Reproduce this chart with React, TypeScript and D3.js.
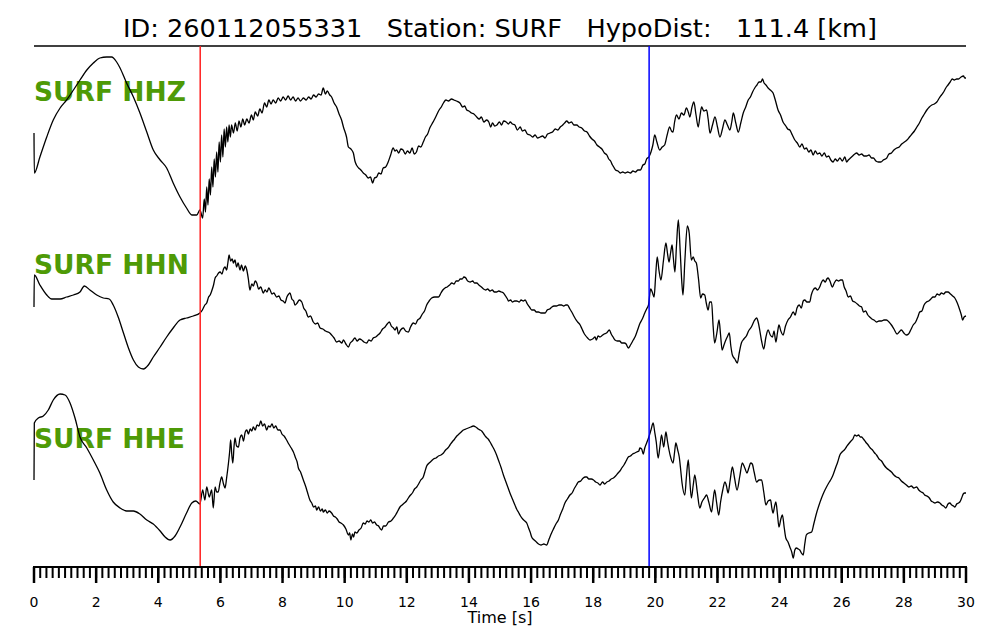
import React from "react";
import * as d3 from "d3";

// ---- data (time [s], normalized amplitude) ----
const stationId = "260112055331";
const stationName = "SURF";
const hypoDist = "111.4";
const channels = ["SURF HHZ", "SURF HHN", "SURF HHE"];
const pPick = 5.35;
const sPick = 19.8;
const majorTicks = [0, 2, 4, 6, 8, 10, 12, 14, 16, 18, 20, 22, 24, 26, 28, 30];
const minorStep = 0.2;
const timeDomain = [0, 30];

const hhz: [number, number][] = [
  [0,4],[0.01,-36],[0.19,-20],[0.41,0],[0.62,17],[0.84,29],[1.05,37],[1.27,47],[1.48,57],[1.70,67],[1.91,74],[2.12,79],[2.34,80],[2.50,80],[2.66,75],[2.77,69],[2.98,54],[3.20,40],[3.41,24],[3.63,5],[3.84,-13],[4.06,-23],[4.27,-31],[4.48,-46],[4.70,-60],[4.91,-71],[5.08,-78],[5.24,-78],[5.34,-73],[5.43,-81],
  [5.48,-62],[5.52,-75],[5.56,-50],[5.60,-68],[5.64,-42],[5.68,-58],[5.72,-30],[5.76,-50],[5.80,-22],[5.84,-40],[5.88,-15],[5.92,-35],[5.96,-5],[6.00,-25],[6.04,2],[6.08,-20],[6.12,8],[6.16,-10],[6.20,10],[6.24,-5],[6.28,12],[6.32,0],[6.36,12],[6.42,4],[6.48,14],[6.54,6],[6.60,16],[6.66,10],[6.72,18],[6.78,12],[6.85,18],[6.92,14],[7.0,22],[7.06,17],[7.12,25],[7.2,21],[7.27,28],[7.34,24],[7.42,34],[7.49,30],[7.56,37],[7.63,33],[7.70,37],[7.78,34],[7.86,39],[7.94,36],[8.02,40],[8.1,37],[8.18,41],[8.26,37],[8.34,40],[8.42,36],[8.5,39],[8.58,36],[8.67,39],[8.76,37],[8.84,40],[8.92,38],[9.0,42],[9.08,40],[9.16,43],[9.24,42],[9.31,49],[9.38,43],[9.44,46],[9.52,42],[9.58,40],[9.66,34],[9.74,30],[9.82,23],[9.90,17],[9.96,10],[10.06,0],[10.12,-10],[10.2,-12],[10.28,-16],[10.33,-24],[10.38,-28],[10.45,-31],[10.52,-33],[10.60,-36],[10.68,-38],[10.76,-41],[10.83,-40],[10.90,-46],[10.96,-41],[11.03,-40],[11.1,-36],[11.17,-37],[11.24,-31],[11.32,-30],[11.40,-25],[11.48,-18],[11.56,-11],[11.62,-14],[11.67,-13],[11.74,-16],[11.81,-12],[11.88,-13],[11.95,-17],[12.02,-14],[12.10,-16],[12.17,-11],[12.24,-17],[12.31,-15],[12.38,-9],[12.45,-10],[12.53,-5],[12.6,0],[12.67,3],[12.74,9],[12.81,13],[12.88,17],[12.96,22],[13.04,27],[13.11,30],[13.18,34],[13.26,37],[13.34,36],[13.44,38],[13.52,37],[13.6,36],[13.71,34],[13.8,30],[13.86,31],[13.93,27],[14.0,26],[14.08,24],[14.16,23],[14.25,20],[14.33,18],[14.40,20],[14.48,15],[14.57,17],[14.64,15],[14.70,10],[14.76,14],[14.83,11],[14.90,12],[14.98,15],[15.05,12],[15.12,16],[15.2,15],[15.27,13],[15.33,15],[15.4,13],[15.48,12],[15.56,7],[15.65,10],[15.72,6],[15.8,7],[15.88,3],[15.97,2],[16.05,0],[16.13,2],[16.21,-1],[16.29,0],[16.37,1],[16.45,-1],[16.53,3],[16.61,4],[16.69,5],[16.78,8],[16.86,7],[16.94,10],[17.02,12],[17.08,14],[17.15,16],[17.22,14],[17.3,15],[17.38,12],[17.47,12],[17.55,10],[17.63,9],[17.72,6],[17.80,5],[17.88,1],[17.96,-2],[18.04,-4],[18.12,-8],[18.2,-10],[18.28,-12],[18.36,-16],[18.44,-18],[18.5,-22],[18.56,-24],[18.62,-28],[18.66,-30],[18.72,-33],[18.8,-34],[18.87,-36],[18.95,-35],[19.03,-36],[19.11,-35],[19.2,-36],[19.28,-34],[19.36,-35],[19.44,-33],[19.52,-33],[19.6,-28],[19.66,-27],[19.72,-22],[19.79,-20],[19.86,-15],[19.92,-8],[19.98,2],[20.05,-5],[20.14,-13],[20.22,-10],[20.30,-8],[20.38,2],[20.46,10],[20.52,6],[20.57,5],[20.62,15],[20.68,22],[20.76,18],[20.84,24],[20.92,22],[21.0,29],[21.06,25],[21.11,20],[21.18,30],[21.24,35],[21.31,22],[21.38,10],[21.44,22],[21.49,30],[21.56,26],[21.65,27],[21.70,18],[21.76,4],[21.84,12],[21.92,20],[22.0,10],[22.08,0],[22.16,8],[22.24,17],[22.32,12],[22.40,7],[22.46,15],[22.51,24],[22.59,14],[22.67,5],[22.75,14],[22.83,24],[22.91,30],[22.99,37],[23.06,40],[23.13,45],[23.2,49],[23.27,52],[23.34,55],[23.40,55],[23.45,58],[23.5,54],[23.56,52],[23.63,49],[23.7,47],[23.79,44],[23.87,36],[23.95,27],[24.03,22],[24.11,15],[24.2,11],[24.26,8],[24.33,7],[24.41,2],[24.49,-3],[24.57,-6],[24.65,-10],[24.72,-7],[24.8,-12],[24.86,-11],[24.94,-15],[25.01,-13],[25.08,-18],[25.15,-14],[25.22,-17],[25.29,-16],[25.36,-19],[25.44,-16],[25.51,-20],[25.58,-19],[25.65,-23],[25.72,-25],[25.79,-22],[25.86,-24],[25.94,-21],[26.02,-24],[26.1,-20],[26.16,-25],[26.21,-23],[26.28,-21],[26.35,-19],[26.42,-17],[26.48,-16],[26.56,-18],[26.64,-17],[26.72,-19],[26.80,-19],[26.88,-18],[26.96,-21],[27.02,-21],[27.1,-24],[27.18,-25],[27.26,-25],[27.34,-23],[27.45,-21],[27.52,-17],[27.6,-16],[27.68,-13],[27.77,-11],[27.85,-10],[27.93,-7],[28.02,-5],[28.1,-3],[28.18,0],[28.26,3],[28.34,6],[28.42,10],[28.5,14],[28.58,19],[28.66,23],[28.74,27],[28.82,30],[28.9,32],[28.98,33],[29.06,35],[29.14,39],[29.21,42],[29.28,45],[29.35,49],[29.42,52],[29.49,55],[29.56,58],[29.62,57],[29.7,58],[29.76,58],[29.84,60],[29.92,61],[29.96,59],[30.0,59]
];

const hhn: [number, number][] = [
  [0,-16],[0.01,16],[0.19,6],[0.41,-4],[0.57,-8],[0.84,-8],[1.05,-6],[1.27,-4],[1.48,-1],[1.62,5],[1.80,1],[2.02,-4],[2.23,-7],[2.42,-8],[2.55,-14],[2.71,-26],[2.88,-42],[3.04,-57],[3.20,-69],[3.36,-76],[3.52,-78],[3.68,-74],[3.84,-66],[4.06,-56],[4.27,-46],[4.48,-37],[4.70,-29],[4.91,-27],[5.13,-25],
  [5.34,-22],[5.42,-19],[5.50,-14],[5.56,-12],[5.62,-6],[5.67,-4],[5.72,0],[5.78,6],[5.83,13],[5.88,15],[5.94,18],[5.99,19],[6.05,17],[6.1,22],[6.15,24],[6.2,21],[6.24,28],[6.28,36],[6.33,30],[6.38,32],[6.42,28],[6.47,31],[6.52,24],[6.57,28],[6.63,21],[6.68,26],[6.74,20],[6.8,25],[6.85,21],[6.9,12],[6.95,1],[7.01,7],[7.06,5],[7.12,10],[7.17,8],[7.23,2],[7.3,4],[7.38,-2],[7.44,1],[7.5,-1],[7.56,3],[7.6,1],[7.66,-3],[7.72,-2],[7.81,-6],[7.88,-5],[7.95,-9],[8.02,-10],[8.08,-12],[8.14,-6],[8.2,-3],[8.24,-2],[8.3,-8],[8.36,-10],[8.40,-14],[8.47,-12],[8.54,-9],[8.62,-11],[8.68,-17],[8.75,-20],[8.83,-26],[8.9,-25],[8.99,-31],[9.06,-33],[9.13,-32],[9.21,-37],[9.3,-38],[9.38,-40],[9.46,-41],[9.52,-42],[9.58,-44],[9.66,-47],[9.74,-51],[9.82,-50],[9.91,-52],[9.96,-49],[10.04,-53],[10.12,-56],[10.18,-52],[10.25,-50],[10.33,-47],[10.40,-50],[10.48,-48],[10.55,-49],[10.62,-51],[10.71,-52],[10.78,-49],[10.85,-50],[10.92,-47],[11.0,-46],[11.07,-44],[11.14,-42],[11.22,-38],[11.30,-36],[11.37,-33],[11.44,-31],[11.5,-35],[11.57,-37],[11.62,-39],[11.68,-36],[11.73,-43],[11.8,-39],[11.89,-37],[11.96,-40],[12.05,-41],[12.12,-36],[12.21,-32],[12.28,-33],[12.35,-29],[12.43,-27],[12.5,-23],[12.57,-20],[12.64,-14],[12.72,-10],[12.80,-7],[12.9,-6],[13.02,-6],[13.1,-2],[13.16,1],[13.23,3],[13.3,4],[13.38,6],[13.45,8],[13.52,7],[13.59,10],[13.66,10],[13.72,12],[13.78,12],[13.84,14],[13.9,13],[13.96,10],[14.04,9],[14.12,10],[14.18,8],[14.25,8],[14.32,6],[14.40,4],[14.47,2],[14.54,1],[14.6,2],[14.68,0],[14.75,1],[14.82,-1],[14.89,-1],[14.96,0],[15.04,-1],[15.11,-2],[15.18,-5],[15.24,-8],[15.27,-10],[15.34,-9],[15.4,-11],[15.47,-10],[15.54,-10],[15.62,-11],[15.68,-9],[15.75,-10],[15.81,-9],[15.88,-13],[15.95,-16],[16.02,-19],[16.1,-19],[16.17,-21],[16.24,-21],[16.32,-22],[16.38,-22],[16.45,-22],[16.52,-19],[16.6,-18],[16.67,-16],[16.74,-15],[16.82,-15],[16.9,-14],[16.98,-14],[17.05,-15],[17.12,-14],[17.17,-14],[17.25,-18],[17.31,-21],[17.36,-24],[17.43,-28],[17.5,-31],[17.58,-34],[17.64,-38],[17.7,-42],[17.74,-44],[17.82,-47],[17.9,-49],[17.98,-48],[18.06,-46],[18.1,-49],[18.16,-45],[18.22,-46],[18.27,-45],[18.35,-43],[18.43,-42],[18.52,-39],[18.58,-43],[18.64,-46],[18.70,-49],[18.78,-50],[18.85,-50],[18.92,-52],[19.0,-52],[19.06,-53],[19.13,-57],[19.2,-54],[19.29,-49],[19.36,-45],[19.44,-38],[19.51,-32],[19.58,-28],[19.66,-22],[19.72,-18],[19.78,-14],[19.85,2],[19.9,-1],[19.96,-6],[20.01,15],[20.06,34],[20.12,20],[20.18,11],[20.26,30],[20.34,48],[20.39,38],[20.44,29],[20.49,38],[20.54,46],[20.58,33],[20.63,19],[20.68,45],[20.74,71],[20.8,40],[20.85,10],[20.89,-4],[20.95,30],[21.03,65],[21.09,58],[21.16,31],[21.22,34],[21.27,30],[21.32,28],[21.39,12],[21.46,-7],[21.52,-3],[21.59,-4],[21.64,-12],[21.70,-19],[21.75,-11],[21.81,-11],[21.86,-35],[21.91,-52],[21.98,-42],[22.05,-29],[22.1,-44],[22.15,-59],[22.21,-54],[22.27,-49],[22.33,-45],[22.38,-42],[22.43,-55],[22.48,-64],[22.56,-68],[22.64,-72],[22.7,-62],[22.77,-52],[22.85,-48],[22.93,-45],[23.0,-40],[23.09,-36],[23.18,-30],[23.26,-27],[23.31,-31],[23.36,-39],[23.42,-50],[23.49,-58],[23.56,-46],[23.63,-39],[23.7,-44],[23.77,-46],[23.82,-40],[23.88,-51],[23.93,-42],[23.98,-34],[24.04,-40],[24.11,-44],[24.19,-35],[24.27,-29],[24.35,-26],[24.44,-21],[24.5,-24],[24.56,-17],[24.63,-14],[24.7,-17],[24.76,-10],[24.81,-9],[24.88,-11],[24.97,-11],[25.02,-4],[25.08,1],[25.15,3],[25.22,1],[25.29,4],[25.34,8],[25.40,11],[25.47,9],[25.52,12],[25.56,13],[25.62,10],[25.7,4],[25.76,8],[25.83,11],[25.9,10],[25.96,11],[26.02,11],[26.08,4],[26.14,0],[26.21,-6],[26.28,-5],[26.35,-10],[26.42,-11],[26.5,-13],[26.57,-15],[26.64,-16],[26.7,-21],[26.77,-20],[26.84,-24],[26.9,-26],[26.97,-28],[27.04,-29],[27.12,-31],[27.2,-30],[27.28,-30],[27.36,-29],[27.44,-29],[27.52,-31],[27.6,-34],[27.68,-38],[27.78,-43],[27.85,-41],[27.92,-39],[28.0,-42],[28.08,-44],[28.15,-43],[28.22,-39],[28.3,-34],[28.38,-31],[28.45,-26],[28.51,-21],[28.58,-20],[28.65,-14],[28.73,-11],[28.8,-10],[28.87,-8],[28.94,-6],[29.0,-6],[29.07,-3],[29.14,-4],[29.21,-2],[29.28,-3],[29.35,-1],[29.42,-1],[29.5,-3],[29.57,-5],[29.64,-7],[29.72,-12],[29.8,-19],[29.85,-24],[29.89,-29],[29.94,-26],[30.0,-25]
];

const hhe: [number, number][] = [
  [0,-4],[0.01,53],[0.14,58],[0.30,60],[0.46,66],[0.62,76],[0.84,82],[1.0,81],[1.16,73],[1.32,58],[1.48,39],[1.70,28],[1.91,16],[2.12,3],[2.34,-14],[2.55,-26],[2.77,-32],[2.98,-35],[3.20,-35],[3.41,-38],[3.63,-44],[3.84,-48],[4.06,-55],[4.22,-61],[4.38,-64],[4.54,-60],[4.70,-51],[4.91,-37],[5.08,-27],[5.21,-25],[5.34,-28],
  [5.43,-14],[5.50,-24],[5.56,-11],[5.64,-21],[5.72,-14],[5.77,-32],[5.83,-11],[5.88,-16],[5.93,-16],[5.98,-8],[6.04,-1],[6.10,-8],[6.15,-12],[6.2,-2],[6.26,13],[6.3,25],[6.33,36],[6.37,20],[6.40,13],[6.44,30],[6.47,38],[6.52,30],[6.58,29],[6.63,38],[6.69,41],[6.74,35],[6.8,44],[6.85,46],[6.9,42],[6.96,47],[7.01,45],[7.06,49],[7.12,46],[7.18,51],[7.24,50],[7.30,55],[7.36,50],[7.42,52],[7.49,46],[7.55,50],[7.6,49],[7.66,52],[7.72,48],[7.78,50],[7.85,46],[7.92,46],[7.98,42],[8.05,40],[8.13,36],[8.2,32],[8.28,28],[8.35,24],[8.42,18],[8.47,14],[8.51,8],[8.58,4],[8.67,-4],[8.74,-10],[8.8,-16],[8.88,-24],[8.94,-27],[9.0,-31],[9.06,-30],[9.1,-34],[9.16,-31],[9.22,-35],[9.28,-33],[9.31,-36],[9.38,-34],[9.44,-37],[9.5,-35],[9.58,-37],[9.64,-40],[9.7,-41],[9.76,-43],[9.82,-46],[9.88,-47],[9.96,-49],[10.04,-53],[10.12,-59],[10.16,-57],[10.20,-64],[10.25,-58],[10.29,-61],[10.33,-56],[10.39,-57],[10.46,-54],[10.53,-52],[10.6,-47],[10.66,-48],[10.72,-45],[10.78,-46],[10.84,-44],[10.9,-47],[10.96,-46],[11.03,-49],[11.09,-50],[11.15,-53],[11.19,-54],[11.25,-50],[11.32,-50],[11.41,-46],[11.49,-45],[11.57,-42],[11.64,-39],[11.71,-35],[11.78,-31],[11.85,-29],[11.92,-27],[11.99,-25],[12.05,-22],[12.12,-19],[12.18,-17],[12.25,-13],[12.32,-11],[12.38,-8],[12.45,-4],[12.53,-1],[12.58,4],[12.64,10],[12.72,13],[12.79,15],[12.86,17],[12.94,18],[13.02,20],[13.1,21],[13.18,23],[13.25,26],[13.32,28],[13.39,31],[13.46,34],[13.54,37],[13.61,40],[13.68,42],[13.75,44],[13.82,46],[13.9,47],[13.98,48],[14.06,49],[14.14,50],[14.22,49],[14.3,47],[14.36,46],[14.41,45],[14.48,42],[14.55,39],[14.62,37],[14.68,34],[14.75,30],[14.82,26],[14.89,21],[14.96,15],[15.04,8],[15.11,1],[15.18,-5],[15.25,-11],[15.32,-17],[15.4,-23],[15.48,-29],[15.55,-34],[15.59,-36],[15.66,-40],[15.73,-43],[15.8,-45],[15.86,-47],[15.92,-52],[15.97,-56],[16.02,-61],[16.1,-64],[16.17,-66],[16.24,-68],[16.32,-69],[16.41,-68],[16.5,-69],[16.58,-63],[16.66,-57],[16.72,-53],[16.8,-48],[16.88,-44],[16.95,-38],[17.02,-33],[17.09,-27],[17.17,-23],[17.25,-19],[17.32,-17],[17.4,-12],[17.46,-9],[17.52,-6],[17.6,-5],[17.68,-2],[17.74,-1],[17.79,-1],[17.86,-3],[17.94,-3],[18.01,-4],[18.08,-6],[18.15,-7],[18.22,-9],[18.3,-6],[18.37,-8],[18.44,-6],[18.51,-5],[18.58,-3],[18.65,-2],[18.72,0],[18.8,3],[18.86,5],[18.92,8],[18.99,11],[19.06,15],[19.13,19],[19.2,20],[19.27,22],[19.34,23],[19.4,24],[19.47,25],[19.5,28],[19.56,27],[19.61,22],[19.66,28],[19.72,33],[19.78,38],[19.86,46],[19.93,53],[19.98,44],[20.03,34],[20.09,18],[20.15,30],[20.2,41],[20.27,29],[20.34,44],[20.39,35],[20.44,26],[20.5,18],[20.57,13],[20.62,24],[20.66,33],[20.72,26],[20.77,19],[20.82,5],[20.86,-7],[20.95,-19],[21.0,-1],[21.06,16],[21.1,0],[21.16,-22],[21.22,-9],[21.27,1],[21.35,-16],[21.43,-32],[21.5,-26],[21.58,-22],[21.65,-19],[21.72,-26],[21.81,-36],[21.86,-24],[21.91,-14],[21.97,-26],[22.04,-39],[22.1,-26],[22.17,-14],[22.24,-6],[22.29,-10],[22.34,-17],[22.41,-4],[22.48,9],[22.55,-2],[22.63,-14],[22.72,0],[22.8,13],[22.88,8],[22.95,3],[23.01,8],[23.07,13],[23.12,12],[23.18,4],[23.26,-6],[23.34,-4],[23.42,-4],[23.49,-16],[23.56,-29],[23.63,-25],[23.71,-24],[23.75,-32],[23.79,-37],[23.84,-30],[23.88,-26],[23.93,-38],[23.98,-51],[24.04,-43],[24.09,-39],[24.15,-52],[24.2,-62],[24.27,-66],[24.33,-71],[24.39,-76],[24.44,-82],[24.49,-74],[24.54,-72],[24.6,-73],[24.65,-74],[24.7,-77],[24.76,-79],[24.81,-68],[24.86,-59],[24.94,-57],[25.03,-56],[25.1,-48],[25.19,-37],[25.27,-29],[25.35,-22],[25.43,-16],[25.51,-11],[25.6,-6],[25.66,-3],[25.72,1],[25.8,8],[25.87,14],[25.94,21],[26.01,24],[26.08,26],[26.15,29],[26.22,32],[26.3,35],[26.36,37],[26.42,41],[26.48,40],[26.54,41],[26.6,39],[26.64,39],[26.7,37],[26.77,34],[26.85,31],[26.92,28],[26.99,26],[27.06,23],[27.12,21],[27.2,17],[27.28,15],[27.36,11],[27.44,8],[27.52,6],[27.6,4],[27.68,1],[27.76,-1],[27.84,-2],[27.92,-5],[28.0,-7],[28.08,-9],[28.16,-11],[28.24,-10],[28.32,-12],[28.41,-11],[28.48,-14],[28.56,-16],[28.62,-17],[28.67,-19],[28.74,-20],[28.82,-22],[28.88,-25],[28.94,-26],[29.0,-27],[29.08,-26],[29.16,-27],[29.22,-29],[29.28,-30],[29.35,-32],[29.42,-28],[29.48,-27],[29.54,-29],[29.6,-30],[29.64,-31],[29.7,-28],[29.76,-27],[29.8,-26],[29.86,-22],[29.91,-18],[29.96,-17],[30.0,-17]
];

const traces = [hhz, hhn, hhe];

// ---- layout ----
const W = 1000;
const H = 640;
const left = 34;
const right = 966;
const ruleY = 46;
const axisY = 567;
const traceCenters = [137, 291, 476];
const traceHalf = 100;
const labelBaselines = [101, 274, 448];
const labelColor = "#4e9a06";
const font = "'DejaVu Sans', sans-serif";

export default function App() {
  const x = d3.scaleLinear().domain(timeDomain).range([left, right]);
  const yScales = traceCenters.map((c) =>
    d3.scaleLinear().domain([-traceHalf, traceHalf]).range([c + traceHalf, c - traceHalf])
  );
  const minorTicks = d3.range(timeDomain[0], timeDomain[1] + 1e-6, minorStep);
  const title = `ID: ${stationId}   Station: ${stationName}   HypoDist:   ${hypoDist} [km]`;

  return (
    <svg
      width={W}
      height={H}
      style={{ position: "absolute", left: 0, top: 0, background: "#fff" }}
      fontFamily={font}
    >
      <rect width={W} height={H} fill="#fff" />
      <text
        x={W / 2}
        y={37}
        textAnchor="middle"
        fontSize={25.6}
        fill="#000"
        style={{ whiteSpace: "pre" }}
        xmlSpace="preserve"
      >
        {title}
      </text>
      <line x1={left} x2={right} y1={ruleY} y2={ruleY} stroke="#000" strokeWidth={1.6} />

      {channels.map((c, i) => (
        <text
          key={c}
          x={left}
          y={labelBaselines[i]}
          fontSize={26.5}
          fontWeight="bold"
          fill={labelColor}
        >
          {c}
        </text>
      ))}

      {traces.map((tr, i) => {
        const line = d3
          .line<[number, number]>()
          .x((d) => x(d[0]))
          .y((d) => yScales[i](d[1]))
          .curve(d3.curveMonotoneX);
        return (
          <path
            key={i}
            d={line(tr) || ""}
            fill="none"
            stroke="#000"
            strokeWidth={1.3}
            strokeLinejoin="round"
          />
        );
      })}

      <line x1={x(pPick)} x2={x(pPick)} y1={ruleY} y2={axisY} stroke="#ff2020" strokeWidth={1.5} />
      <line x1={x(sPick)} x2={x(sPick)} y1={ruleY} y2={axisY} stroke="#0000ff" strokeWidth={1.5} />

      {/* axis */}
      <line x1={left - 1} x2={right + 1} y1={axisY} y2={axisY} stroke="#000" strokeWidth={2} />
      {minorTicks.map((t) => (
        <line
          key={"m" + t.toFixed(1)}
          x1={x(t)}
          x2={x(t)}
          y1={axisY}
          y2={axisY + 11}
          stroke="#000"
          strokeWidth={2}
        />
      ))}
      {majorTicks.map((t) => (
        <g key={"M" + t}>
          <line x1={x(t)} x2={x(t)} y1={axisY} y2={axisY + 16} stroke="#000" strokeWidth={2.5} />
          <text x={x(t)} y={607} textAnchor="middle" fontSize={14} fill="#000">
            {t}
          </text>
        </g>
      ))}
      <text x={W / 2} y={623} textAnchor="middle" fontSize={16} fill="#000">
        Time [s]
      </text>
    </svg>
  );
}
